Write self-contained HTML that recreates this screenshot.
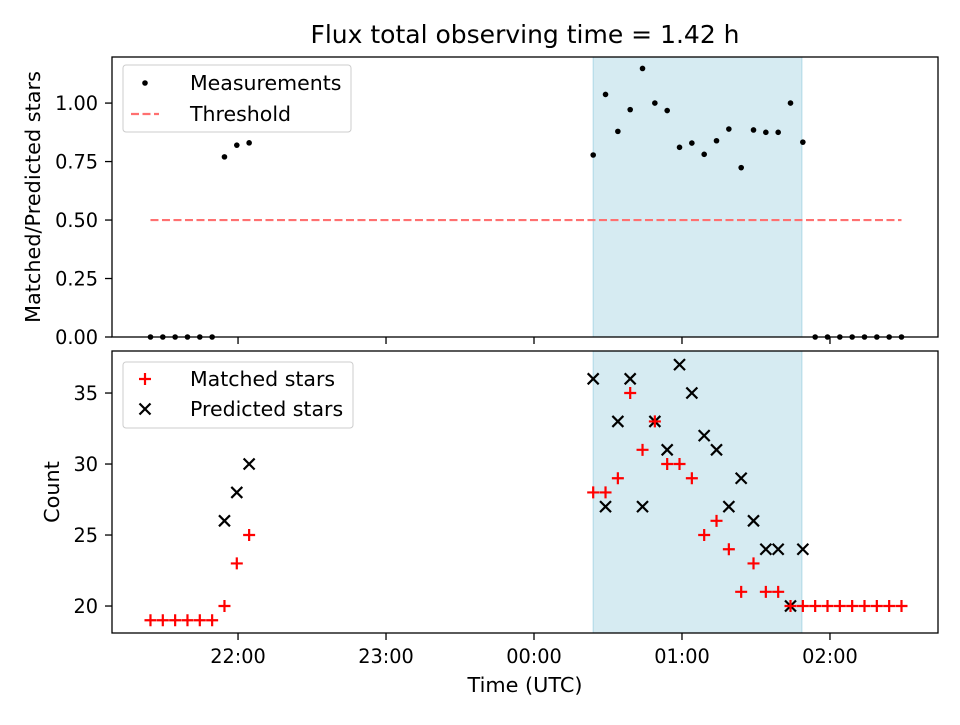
<!DOCTYPE html>
<html><head><meta charset="utf-8"><style>
body{margin:0;background:#fff}
svg{font-family:"DejaVu Sans","Liberation Sans",sans-serif}
</style></head><body>
<svg id="c" width="960" height="720" xmlns="http://www.w3.org/2000/svg">
<rect width="960" height="720" fill="#fff"/>
</svg>
<script>
// minutes relative to 22:00 UTC
const earlyTimes = [-35.5,-30.5,-25.5,-20.5,-15.5,-10.5,-5.5,-0.5,4.5];
const earlyMatched = [19,19,19,19,19,19,20,23,25];
const earlyPredicted = [null,null,null,null,null,null,26,28,30];
const earlyRatio = [0,0,0,0,0,0,0.77,0.82,0.83];
const lateTimes = [144,149,154,159,164,169,174,179,184,189,194,199,204,209,214,219,224,229,234,239,244,249,254,259,264,269];
const lateMatched = [28,28,29,35,31,33,30,30,29,25,26,24,21,23,21,21,20,20,20,20,20,20,20,20,20,20];
const latePredicted = [36,27,33,36,27,33,31,37,35,32,31,27,29,26,24,24,20,24,null,null,null,null,null,null,null,null];
const lateRatio = [0.778,1.037,0.879,0.972,1.148,1.0,0.968,0.811,0.829,0.781,0.839,0.889,0.724,0.885,0.875,0.875,1.0,0.833,0,0,0,0,0,0,0,0];
const shadeSpan = [144,228.6];
const thresholdSpan = [-35.5,269];
const thresholdValue = 0.5;
const xTickMinutes = [0,60,120,180,240];
const xTickLabels = ["22:00","23:00","00:00","01:00","02:00"];
const topTicks = [0,0.25,0.5,0.75,1.0];
const topTickLabels = ["0.00","0.25","0.50","0.75","1.00"];
const botTicks = [20,25,30,35];
const botTickLabels = ["20","25","30","35"];

const svg=document.getElementById('c');
const NS="http://www.w3.org/2000/svg";
function mk(tag,attrs,parent){const e=document.createElementNS(NS,tag);for(const k in attrs)e.setAttribute(k,attrs[k]);(parent||svg).appendChild(e);return e;}
const L=112,R=938,TT=57,TB=337,BT=351,BB=633;
const xMin=-51.1,xMax=283.8;
const X=m=>L+(m-xMin)/(xMax-xMin)*(R-L);
const topMin=0,topMax=1.197;
const YT=v=>TB-(v-topMin)/(topMax-topMin)*(TB-TT);
const botMin=18.1,botMax=37.96;
const YB=v=>BB-(v-botMin)/(botMax-botMin)*(BB-BT);
const allTimes=earlyTimes.concat(lateTimes);
const allMatched=earlyMatched.concat(lateMatched);
const allPred=earlyPredicted.concat(latePredicted);
const allRatio=earlyRatio.concat(lateRatio);
const FS=19.3;

let s=mk('rect',{x:X(shadeSpan[0]),y:TT,width:X(shadeSpan[1])-X(shadeSpan[0]),height:TB-TT,fill:'#add8e6','fill-opacity':0.5,stroke:'#add8e6'});


s=mk('rect',{x:X(shadeSpan[0]),y:BT,width:X(shadeSpan[1])-X(shadeSpan[0]),height:BB-BT,fill:'#add8e6','fill-opacity':0.5,stroke:'#add8e6'});



let th=mk('line',{x1:X(thresholdSpan[0]),x2:X(thresholdSpan[1]),y1:YT(thresholdValue),y2:YT(thresholdValue),stroke:'#ff7070','stroke-width':2.2,'stroke-dasharray':'8,3.5'});



allTimes.forEach((t,i)=>{
  const c=mk('circle',{cx:X(t),cy:YT(allRatio[i]),r:2.8,fill:'#000'});
  
  
});
allTimes.forEach((t,i)=>{
  if(allPred[i]==null)return;
  const x=X(t),y=YB(allPred[i]),d=5.5;
  const p=mk('path',{d:`M${x-d},${y-d}L${x+d},${y+d}M${x-d},${y+d}L${x+d},${y-d}`,stroke:'#000','stroke-width':2.2});
  
  
});
allTimes.forEach((t,i)=>{
  const x=X(t),y=YB(allMatched[i]),d=6;
  const p=mk('path',{d:`M${x-d},${y}L${x+d},${y}M${x},${y-d}L${x},${y+d}`,stroke:'#ff0000','stroke-width':2.2});
  
  
});

let f=mk('rect',{x:L,y:TT,width:R-L,height:TB-TT,fill:'none',stroke:'#000','stroke-width':1.3});

f=mk('rect',{x:L,y:BT,width:R-L,height:BB-BT,fill:'none',stroke:'#000','stroke-width':1.3});


xTickMinutes.forEach((m,i)=>{
  const x=X(m);
  mk('line',{x1:x,x2:x,y1:TB,y2:TB+7,stroke:'#000','stroke-width':1.3});
  mk('line',{x1:x,x2:x,y1:BB,y2:BB+7,stroke:'#000','stroke-width':1.3});
  const t=mk('text',{x:x,y:BB+30,'font-size':FS,'text-anchor':'middle'});
  t.textContent=xTickLabels[i];
  
  
});
topTicks.forEach((v,i)=>{
  const y=YT(v);
  mk('line',{x1:L-7,x2:L,y1:y,y2:y,stroke:'#000','stroke-width':1.3});
  const t=mk('text',{x:L-14,y:y+7,'font-size':FS,'text-anchor':'end'});
  t.textContent=topTickLabels[i];
  
  
});
botTicks.forEach((v,i)=>{
  const y=YB(v);
  mk('line',{x1:L-7,x2:L,y1:y,y2:y,stroke:'#000','stroke-width':1.3});
  const t=mk('text',{x:L-14,y:y+7,'font-size':FS,'text-anchor':'end'});
  t.textContent=botTickLabels[i];
  
  
});
</script>
<svg width="960" height="720" style="position:absolute;left:0;top:0" xmlns="http://www.w3.org/2000/svg" font-family="DejaVu Sans, Liberation Sans, sans-serif">
<text x="525" y="43" font-size="25" text-anchor="middle">Flux total observing time = 1.42 h</text>
<text x="525" y="692" font-size="20.8" text-anchor="middle">Time (UTC)</text>
<text transform="translate(40,197) rotate(-90)" font-size="20.8" text-anchor="middle">Matched/Predicted stars</text>
<text transform="translate(59,492) rotate(-90)" font-size="20.8" text-anchor="middle">Count</text>
<g>
<rect x="123" y="65" width="228" height="67" rx="3" fill="#fff" fill-opacity="0.8" stroke="#ccc"/>
<circle cx="145" cy="83" r="2.8" fill="#000"/>
<text x="190" y="90" font-size="20.5">Measurements</text>
<line x1="131" x2="159" y1="114" y2="114" stroke="#ff7070" stroke-width="2.2" stroke-dasharray="8,3.5"/>
<text x="190" y="121" font-size="20.5">Threshold</text>
</g>
<g>
<rect x="123" y="362" width="230" height="66" rx="3" fill="#fff" fill-opacity="0.8" stroke="#ccc"/>
<path d="M139,379H151M145,373V385" stroke="#f00" stroke-width="2.2"/>
<text x="190" y="386" font-size="20.5">Matched stars</text>
<path d="M139.5,403.5L150.5,414.5M139.5,414.5L150.5,403.5" stroke="#000" stroke-width="2.2"/>
<text x="190" y="416" font-size="20.5">Predicted stars</text>
</g>
</svg>
</body></html>
